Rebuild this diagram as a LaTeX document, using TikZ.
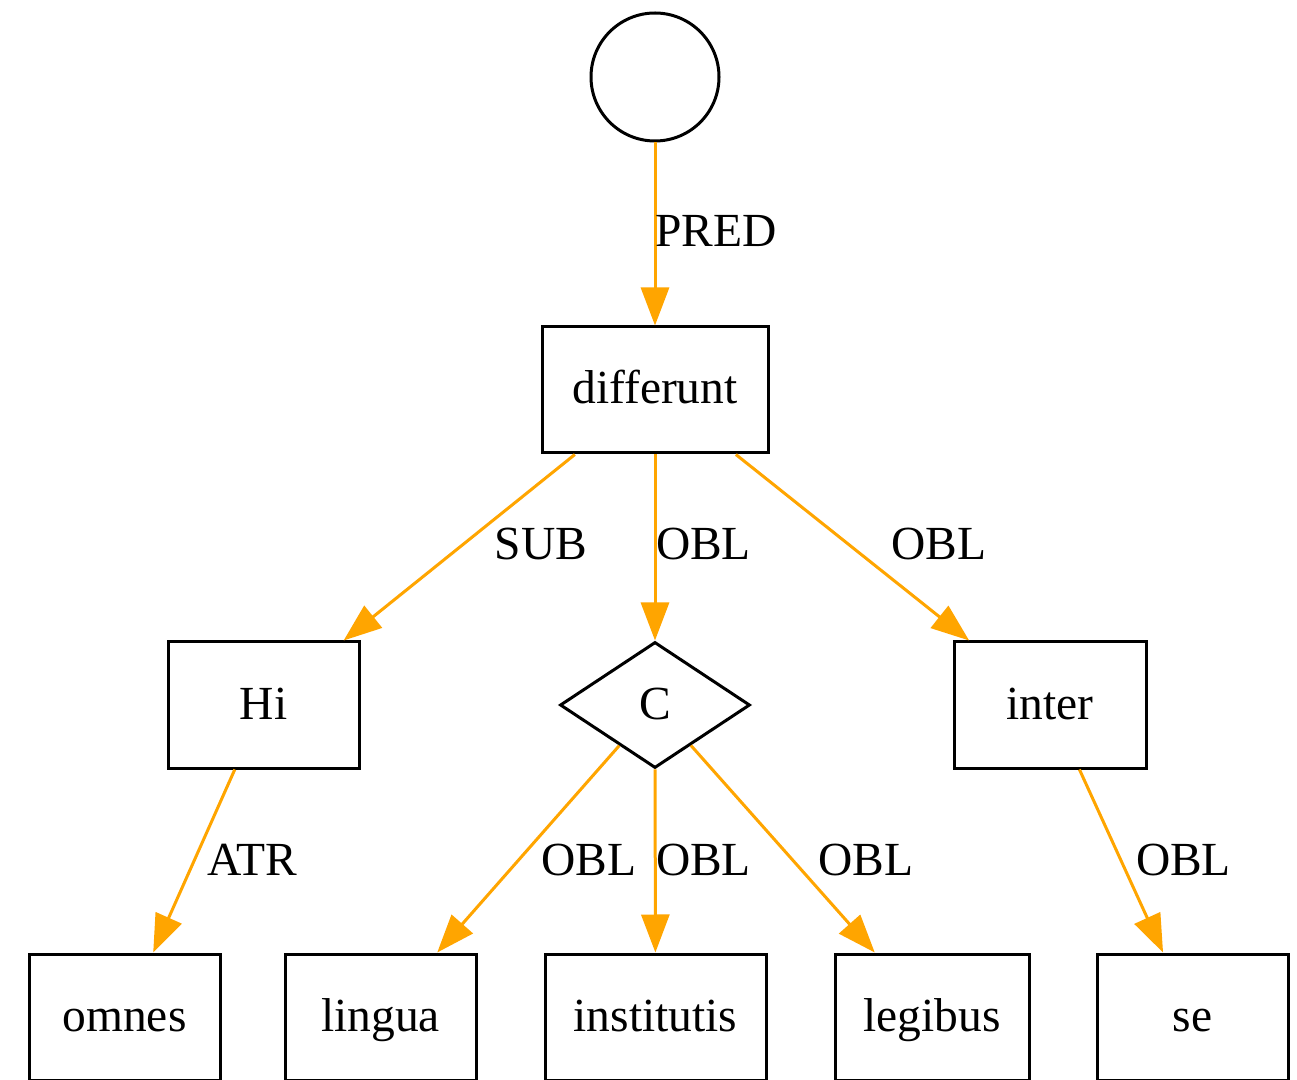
\documentclass[tikz,border=0pt]{standalone}
\usepackage{fontspec}
\setmainfont{Liberation Serif}
\usetikzlibrary{arrows.meta,shapes.geometric}
\definecolor{edgeorange}{HTML}{FFA500}
\begin{document}
\begin{tikzpicture}[x=0.5pt,y=-0.5pt,
  every node/.style={font=\fontsize{23.75}{28}\selectfont, text height=14pt, text depth=0pt, inner sep=0pt},
  boxnode/.style={draw=black, line width=1.5pt, minimum height=63pt, fill=white},
  diamnode/.style={draw=black, line width=1.5pt, diamond, minimum width=95pt, minimum height=63pt, fill=white},
  circnode/.style={draw=black, line width=1.5pt, circle, minimum size=64pt, fill=white},
  edge/.style={draw=edgeorange, line width=1.5pt, -{Triangle[length=19pt,width=14pt,fill=edgeorange]}},
  elabel/.style={text=black}
]
\useasboundingbox (0,0) rectangle (1297,1080);
\clip (0,0) rectangle (1297,1080);
\fill[white] (0,0) rectangle (1297,1080);
% nodes
\node[circnode] (root) at (655,77) {};
\node[boxnode, minimum width=113pt] (d) at (655,390) {differunt};
\node[boxnode, minimum width=95.5pt] (hi) at (263.5,705) {Hi};
\node[diamnode] (c) at (655,705) {C};
\node[boxnode, minimum width=96pt] (inter) at (1050,705) {inter};
\node[boxnode, minimum width=95.5pt] (omnes) at (124.5,1017) {omnes};
\node[boxnode, minimum width=95.5pt] (lingua) at (380.5,1017) {lingua};
\node[boxnode, minimum width=110.5pt] (inst) at (655.5,1017) {institutis};
\node[boxnode, minimum width=97pt] (leg) at (932,1017) {legibus};
\node[boxnode, minimum width=95.5pt] (se) at (1192.5,1017) {se};
% edges
\draw[edge] (root) -- (d);
\draw[edge] (d) -- (hi);
\draw[edge] (d) -- (c);
\draw[edge] (d) -- (inter);
\draw[edge] (hi) -- (omnes);
\draw[edge] (c) -- (lingua);
\draw[edge] (c) -- (inst);
\draw[edge] (c) -- (leg);
\draw[edge] (inter) -- (se);
% labels
\node[elabel] (lpred) at (716,233) {PRED};
\node[elabel] (lsub) at (541,546) {SUB};
\node[elabel] (lobl1) at (703.5,546) {OBL};
\node[elabel] (lobl2) at (939,546) {OBL};
\node[elabel] (latr) at (252,861) {ATR};
\node[elabel] (lobl3) at (589,861) {OBL};
\node[elabel] (lobl4) at (703.5,861) {OBL};
\node[elabel] (lobl5) at (866,861) {OBL};
\node[elabel] (lobl6) at (1183.5,861) {OBL};
\end{tikzpicture}
\end{document}
